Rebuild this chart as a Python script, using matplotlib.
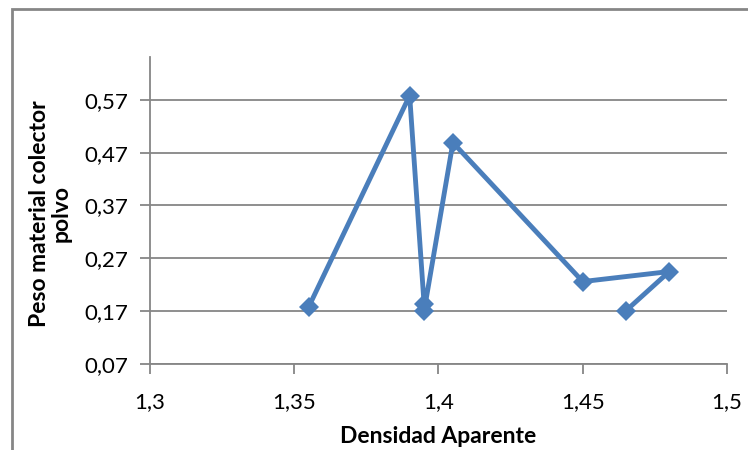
import matplotlib
matplotlib.use("Agg")
import matplotlib.pyplot as plt
from matplotlib.patches import Rectangle
from matplotlib.ticker import FuncFormatter

plt.rcParams['font.family'] = ['Lato', 'DejaVu Sans']

# data
densidad = [1.355, 1.390, 1.395, 1.395, 1.405, 1.450, 1.480, 1.465]
peso = [0.178, 0.578, 0.184, 0.170, 0.489, 0.226, 0.245, 0.171]

x_ticks = [1.3, 1.35, 1.4, 1.45, 1.5]
y_ticks = [0.07, 0.17, 0.27, 0.37, 0.47, 0.57]

grey = "#868686"
blue = "#4A7EBB"

fig = plt.figure(figsize=(7.48, 4.5), dpi=100)
ax = fig.add_axes([150/748, 1 - 364/450, (727 - 150)/748, (364 - 57)/450])

ax.plot(densidad, peso, '-D', color=blue, lw=3.5, markersize=10,
        markeredgewidth=0, zorder=3, clip_on=False)

ax.set_xlim(1.3, 1.5)
ax.set_ylim(0.07, 0.651)
ax.set_xticks(x_ticks)
ax.set_yticks(y_ticks)
ax.xaxis.set_major_formatter(FuncFormatter(lambda v, p: ("%g" % v).replace(".", ",")))
ax.yaxis.set_major_formatter(FuncFormatter(lambda v, p: ("%.2f" % v).replace(".", ",")))

ax.grid(axis='y', color=grey, lw=1.3)
ax.set_axisbelow(True)
for s in ['top', 'right']:
    ax.spines[s].set_visible(False)
for s in ['left', 'bottom']:
    ax.spines[s].set_color(grey)
    ax.spines[s].set_linewidth(1.3)

ax.tick_params(axis='y', direction='out', length=7, width=1.3, color=grey,
               labelsize=16, pad=9)
ax.tick_params(axis='x', direction='out', length=7, width=1.3, color=grey,
               labelsize=16, pad=13)

ax.set_xlabel("Densidad Aparente", fontsize=16.5, fontweight='bold', labelpad=10)
ax.set_ylabel("Peso material colector\npolvo", fontsize=16.5, fontweight='bold',
              linespacing=1.05, multialignment='center')
ax.yaxis.set_label_coords(-0.135, 0.49)

# outer chart frame, cut at right and bottom
fig.patches.append(Rectangle((12/748, -0.2), 1.2, 1.2 - 9/450,
                             transform=fig.transFigure, fill=False,
                             edgecolor=grey, lw=2))

plt.savefig("out.png", dpi=100)
